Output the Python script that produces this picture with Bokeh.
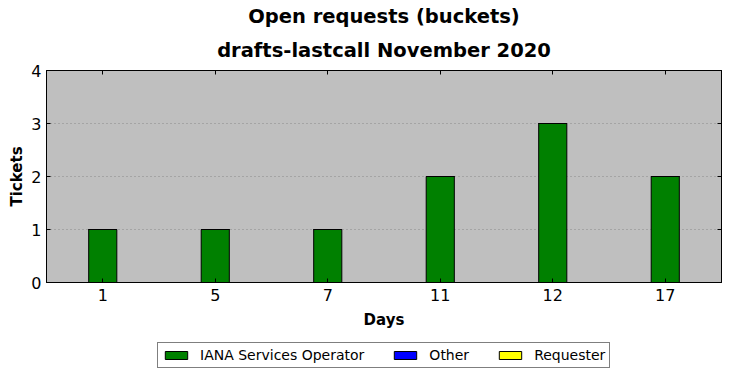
from bokeh.plotting import figure
from bokeh.layouts import column
from bokeh.models import Range1d, FactorRange, LinearAxis, CategoricalAxis, Legend, FixedTicker, Title
from bokeh.embed import file_html
from bokeh.resources import INLINE

days = ["1", "5", "7", "11", "12", "17"]
iana = [1, 1, 1, 2, 3, 2]
other = [0, 0, 0, 0, 0, 0]
requester = [0, 0, 0, 0, 0, 0]
series = ["IANA Services Operator", "Other", "Requester"]
colors = ["#008000", "#0000ff", "#ffff00"]
y_ticks = [0, 1, 2, 3, 4]
title_lines = ["Open requests (buckets)", "drafts-lastcall November 2020"]

FONT = "DejaVu Sans"
source = {"days": days, "IANA Services Operator": iana, "Other": other, "Requester": requester}

p = figure(width=731, height=335, x_range=FactorRange(*days, range_padding=0),
           y_range=Range1d(0, 4), output_backend="svg", toolbar_location=None,
           min_border_left=46, min_border_right=10, min_border_top=70, min_border_bottom=53)
p.background_fill_color = "#bfbfbf"
p.border_fill_color = "white"
p.outline_line_color = "black"
p.outline_line_width = 1

rs = p.vbar_stack(series, x="days", width=0.25, source=source, color=colors,
                  line_color="black", line_width=1)

p.xgrid.grid_line_color = None
p.ygrid.grid_line_color = "#888888"
p.ygrid.grid_line_dash = "1 3"
p.ygrid.grid_line_width = 1
p.yaxis.ticker = FixedTicker(ticks=y_ticks)

for ax in [p.xaxis[0], p.yaxis[0]]:
    ax.major_tick_in = 4
    ax.major_tick_out = 0
    ax.minor_tick_in = 0
    ax.minor_tick_out = 0
    ax.axis_line_color = "black"
    ax.major_tick_line_color = "black"
    ax.major_label_text_font = FONT
    ax.major_label_text_font_size = "16px"
    ax.major_label_text_color = "black"
    ax.axis_label_text_font = FONT
    ax.axis_label_text_font_size = "15px"
    ax.axis_label_text_font_style = "bold"
    ax.axis_label_text_color = "black"

p.xaxis.axis_label = "Days"
p.yaxis.axis_label = "Tickets"
p.xaxis.major_label_standoff = 6
p.yaxis.major_label_standoff = 5
p.xaxis.axis_label_standoff = 7
p.yaxis.axis_label_standoff = 2

right = LinearAxis(ticker=FixedTicker(ticks=y_ticks), major_tick_in=4, major_tick_out=0,
                   minor_tick_in=0, minor_tick_out=0, major_label_text_alpha=0,
                   major_label_text_font_size="1px",
                   major_label_standoff=0, axis_line_color="black")
p.add_layout(right, "right")
top = CategoricalAxis(major_tick_in=4, major_tick_out=0, major_label_text_alpha=0,
                      major_label_text_font_size="1px",
                      major_label_standoff=0, axis_line_color="black")
p.add_layout(top, "above")

p.title.text = title_lines[0]
p.title.align = "center"
p.title.text_font = FONT
p.title.text_font_size = "19.5px"
p.title.text_font_style = "bold"
p.title.text_color = "black"
p.title.text_line_height = 0.9
p.title.standoff = 0
t2 = Title(text=title_lines[1], align="center", text_font=FONT, text_font_size="19.5px",
           text_font_style="bold", text_color="black", text_line_height=0.9, standoff=18)
p.add_layout(t2, "above")

# legend strip below the chart
lg = figure(width=731, height=43, x_range=FactorRange(*days), y_range=Range1d(10, 11),
            output_backend="svg", toolbar_location=None, min_border=0,
            x_axis_location=None, y_axis_location=None)
lg.outline_line_color = None
lg.background_fill_color = "white"
lg.xgrid.grid_line_color = None
lg.ygrid.grid_line_color = None
lrs = lg.vbar_stack(series, x="days", width=0.25, source=source, color=colors,
                    line_color="black", line_width=1)
legend = Legend(items=[(s, [r]) for s, r in zip(series, lrs)], orientation="horizontal",
                location=(111, 10), label_text_font=FONT, label_text_font_size="14px",
                label_text_color="black", glyph_width=28, glyph_height=10,
                spacing=27, padding=4, margin=0, label_standoff=10,
                border_line_color="black", border_line_width=1, background_fill_color="white",
                background_fill_alpha=1, label_height=16)
lg.add_layout(legend)

layout = column(p, lg, spacing=0)
open("out.html", "w").write(file_html(layout, INLINE))
